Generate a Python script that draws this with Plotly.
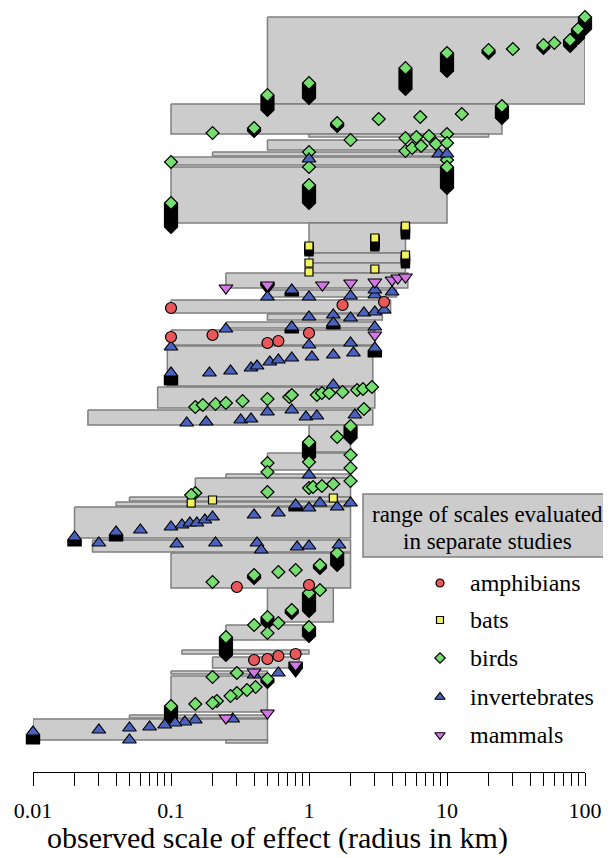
import plotly.graph_objects as go

SERIF = "Liberation Serif, Times New Roman, serif"

# ---- ranges of scales evaluated in separate studies (km), and study row position (top/bottom, row units from top)
study_lo = [0.5, 0.1, 1, 0.5, 0.2, 0.1, 0.1, 1, 1, 1, 0.25, 0.5, 0.1, 0.5, 0.25, 0.1, 0.094, 0.08, 0.025,
            1, 0.5, 0.25, 0.15, 0.05, 0.04, 0.02, 0.027, 0.1, 0.5, 0.25, 0.12, 0.2, 0.1, 0.1, 0.05, 0.01, 0.25]
study_hi = [100, 25, 20, 10, 10, 10, 10, 5, 5, 5, 5.2, 4.3, 3.9, 3.4, 3, 3, 2.9, 3, 2.9,
            2, 2, 2, 2, 2, 2, 2, 2, 2, 1.5, 1, 1, 0.85, 0.5, 0.5, 0.5, 0.5, 0.5]
study_top = [17, 104, 134, 140, 152, 157, 167, 223, 253, 263, 273, 290, 300, 314, 322, 330, 346, 387, 410,
             425, 453, 474, 478, 497, 502, 507, 540, 553, 588, 625, 650, 657, 671, 676, 715, 719, 740]
study_bottom = [104, 134, 137, 150, 156, 165, 223, 253, 263, 273, 288, 297, 313, 320, 328, 345, 386, 408, 425,
                452, 470, 478, 497, 501, 506, 538, 552, 588, 622, 640, 654, 668, 674, 712, 718, 740, 743]

# ---- observed scales of effect (km), row, and number of identical values stacked underneath
amph_x = [0.1, 1.75, 3.5, 0.1, 0.2, 0.5, 0.6, 1, 0.3, 1, 0.4, 0.5, 0.6, 0.8]
amph_row = [308, 305, 302, 337, 335, 343, 341, 333, 587, 585, 660, 659, 656, 654]
amph_stack = [0] * 14

bats_x = [5, 3, 1, 5, 1, 1, 3, 0.2, 1.5, 0.14]
bats_row = [226, 238, 246, 255, 263, 272, 269, 500, 498, 503]
bats_stack = [3, 3, 2, 3, 0, 0, 0, 0, 0, 0]

birds_x = [100, 89, 78, 60, 50, 30, 20, 10, 5, 1, 0.5,
           0.2, 0.4, 1.6, 3.2, 6.4, 12.8, 25,
           2, 5, 6, 7.4, 10, 5, 5.6, 6.5, 8.3, 10, 10, 10, 1, 1, 0.1, 1, 0.1,
           0.15, 0.17, 0.21, 0.25, 0.33, 0.5, 0.72, 0.75, 1.14, 1.24, 1.4, 1.75, 2.23, 2.46, 2.86,
           2.5, 1, 1.6, 2, 0.5, 0.5, 1, 2, 2,
           0.15, 0.5, 1, 1.07, 1.24, 1.5, 2, 0.14,
           0.2, 0.4, 0.6, 0.8, 1.2, 1.6,
           1, 1.2, 0.75, 0.5, 0.4, 0.6, 0.5, 1, 0.25,
           0.2, 0.3, 0.5, 0.41, 0.355, 0.3, 0.27, 0.215, 0.2, 0.15, 0.1]
birds_row = [17, 29, 40, 43, 45, 49, 50, 53, 68, 83, 95,
             133, 128, 123, 119, 117, 114, 106,
             140, 138, 137, 136, 134, 151, 148, 146, 144, 143, 160, 167, 152, 167, 162, 185, 203,
             407, 405, 404, 403, 401, 399, 397, 395, 395, 393, 393, 392, 390, 389, 387,
             409, 442, 437, 426, 463, 472, 462, 455, 468,
             493, 492, 488, 487, 486, 484, 481, 495,
             582, 575, 572, 570, 565, 553,
             593, 590, 610, 617, 625, 623, 633, 627, 637,
             677, 673, 679, 687, 690, 693, 696, 701, 703, 704, 706]
birds_stack = [4, 3, 2, 0, 1, 0, 1, 6, 7, 5, 5,
               0, 1, 1, 0, 0, 0, 4,
               0, 0, 0, 0, 0, 0, 0, 0, 0, 0, 0, 7, 0, 0, 0, 6, 8,
               0, 0, 0, 0, 0, 0, 0, 0, 0, 0, 0, 0, 0, 0, 0,
               0, 5, 0, 4, 0, 0, 0, 0, 0,
               0, 0, 0, 0, 0, 0, 0, 0,
               0, 1, 0, 0, 1, 4,
               6, 0, 1, 2, 0, 0, 0, 3, 6,
               0, 0, 1, 0, 0, 0, 0, 0, 0, 0, 4]

inv_x = [8.7, 10, 1,
         0.75, 0.5, 1, 2, 3, 4, 3,
         1, 1.5, 1.5, 2, 2.5, 3, 3.5,
         0.75, 0.25, 1, 2, 3, 3, 0.1,
         0.1, 0.19, 0.27, 0.38, 0.42, 0.52, 0.6, 0.75, 1.05, 1.5, 2.1,
         1.5, 0.13, 0.18, 0.32, 0.38, 0.5, 0.75, 0.95, 1.14, 2.15, 1,
         0.02, 0.04, 0.06, 0.1, 0.12, 0.137, 0.154, 0.176, 0.2, 0.4, 0.6, 0.8, 1, 1.2, 1.6, 2,
         0.03, 0.11, 0.21, 0.42, 0.45, 0.82, 1, 1.65,
         0.4, 0.6,
         0.28, 0.15, 0.126, 0.107, 0.09, 0.07, 0.05, 0.03, 0.01, 0.05]
inv_row = [154, 154, 159,
           290, 297, 297, 296, 295, 292, 290,
           317, 315, 323, 318, 313, 312, 310,
           327, 329, 345, 343, 327, 348, 347,
           373, 373, 371, 368, 366, 362, 360, 358, 357, 355, 353,
           385, 423, 422, 420, 419, 412, 410, 417, 416, 415, 475,
           537, 532, 530, 527, 525, 523, 523, 520, 517, 515, 513, 505, 508, 503, 507, 503,
           543, 544, 543, 543, 550, 547, 546, 545,
           675, 673,
           719, 720, 722, 723, 725, 727, 728, 730, 732, 740]
inv_stack = [0, 0, 0,
             1, 0, 0, 0, 0, 0, 0,
             0, 0, 1, 0, 0, 0, 0,
             1, 0, 0, 0, 0, 2, 0,
             3, 0, 0, 0, 0, 0, 0, 0, 0, 0, 0,
             0, 0, 0, 0, 0, 0, 0, 0, 0, 0, 0,
             2, 2, 0, 0, 0, 0, 0, 0, 0, 0, 0, 1, 0, 0, 0, 0,
             0, 0, 0, 0, 0, 0, 0, 0,
             0, 0,
             0, 0, 0, 0, 0, 0, 0, 0, 3, 0]

mam_x = [0.25, 0.5, 1.25, 2, 3, 4, 4.4, 5, 3, 0.8, 0.4, 0.25, 0.5]
mam_row = [288, 285, 285, 283, 282, 280, 278, 277, 335, 665, 672, 718, 713]
mam_stack = [0, 1, 0, 0, 0, 0, 0, 0, 0, 2, 0, 0, 0]

taxa = ["amphibians", "bats", "birds", "invertebrates", "mammals"]

# ---- styling
RECT_FILL = "#CCCCCC"
RECT_LINE = "#7F7F7F"
styles = {
    "amphibians": dict(symbol="circle", color="#E8585A", size=11),
    "bats": dict(symbol="square", color="#F2F25E", size=8),
    "birds": dict(symbol="diamond", color="#74DE6E", size=10),
    "invertebrates": dict(symbol="triangle-up", color="#4A62BE", size=12),
    "mammals": dict(symbol="triangle-down", color="#D178E6", size=12),
}
series = {
    "amphibians": (amph_x, amph_row, amph_stack),
    "bats": (bats_x, bats_row, bats_stack),
    "birds": (birds_x, birds_row, birds_stack),
    "invertebrates": (inv_x, inv_row, inv_stack),
    "mammals": (mam_x, mam_row, mam_stack),
}
STACK_STEP = 3
STACK_SUB = 3  # sub-steps per stacked value so the shadow looks solid

# page geometry (the HTML body adds an 8 px offset)
OFF = 8
PAGE_W, PAGE_H = 611, 858
W, H = PAGE_W - OFF, PAGE_H - OFF


def px(xp):
    return (xp - OFF) / W


def py(yp):
    return 1 - (yp - OFF) / H


fig = go.Figure()

# study ranges
for lo, hi, t, b in zip(study_lo, study_hi, study_top, study_bottom):
    fig.add_trace(go.Scatter(
        x=[lo, hi, hi, lo, lo], y=[t, t, b, b, t], mode="lines", fill="toself",
        fillcolor=RECT_FILL, line=dict(color=RECT_LINE, width=1.5),
        hoverinfo="skip", showlegend=False))

order = ["birds", "invertebrates", "mammals", "amphibians", "bats"]
# stacked duplicates (black) then coloured markers
for name in order:
    xs, rows, stacks = series[name]
    st = styles[name]
    bx, by = [], []
    for x, r, n in zip(xs, rows, stacks):
        for k in range(n * STACK_SUB, 0, -1):
            bx.append(x)
            by.append(r + k * STACK_STEP / STACK_SUB)
    if bx:
        fig.add_trace(go.Scatter(
            x=bx, y=by, mode="markers", cliponaxis=False, showlegend=False, hoverinfo="skip",
            marker=dict(symbol=st["symbol"], size=st["size"], color="black",
                        line=dict(color="black", width=1.2))))

for name in order:
    xs, rows, stacks = series[name]
    st = styles[name]
    fig.add_trace(go.Scatter(
        x=xs, y=rows, mode="markers", cliponaxis=False, name=name, showlegend=False,
        marker=dict(symbol=st["symbol"], size=st["size"], color=st["color"],
                    line=dict(color="black", width=1.2))))

# legend (drawn in page-pixel overlay axes)
leg_y = [583, 620, 658, 697, 735]
leg_sizes = {"amphibians": 8, "bats": 7, "birds": 8, "invertebrates": 9, "mammals": 9}
for name, yy in zip(taxa, leg_y):
    st = styles[name]
    fig.add_trace(go.Scatter(
        x=[440], y=[yy], xaxis="x2", yaxis="y2", mode="markers", showlegend=False, hoverinfo="skip",
        cliponaxis=False,
        marker=dict(symbol=st["symbol"], size=leg_sizes[name], color=st["color"],
                    line=dict(color="black", width=1.2))))

annotations = []
for name, yy in zip(taxa, leg_y):
    annotations.append(dict(text=name, x=px(468), y=py(yy), xref="paper", yref="paper",
                            xanchor="left", yanchor="middle", showarrow=False,
                            font=dict(family=SERIF, size=24, color="black")))
annotations.append(dict(text="range of scales evaluated", x=px(487), y=py(514), xref="paper", yref="paper",
                        xanchor="center", yanchor="middle", showarrow=False,
                        font=dict(family=SERIF, size=23, color="black")))
annotations.append(dict(text="in separate studies", x=px(487), y=py(541), xref="paper", yref="paper",
                        xanchor="center", yanchor="middle", showarrow=False,
                        font=dict(family=SERIF, size=23, color="black")))
annotations.append(dict(text="observed scale of effect (radius in km)", x=px(277), y=py(838),
                        xref="paper", yref="paper", xanchor="center", yanchor="middle", showarrow=False,
                        font=dict(family=SERIF, size=30, color="black")))

shapes = [dict(type="rect", xref="paper", yref="paper", x0=px(363), x1=1.05, y0=py(557), y1=py(494),
               fillcolor=RECT_FILL, line=dict(color=RECT_LINE, width=1.5), layer="below")]

tickvals, ticktext = [], []
for d, lab in [(0.01, "0.01"), (0.1, "0.1"), (1, "1"), (10, "10")]:
    for m in range(1, 10):
        tickvals.append(m * d)
        ticktext.append(lab if m == 1 else "")
tickvals.append(100)
ticktext.append("100")

AXIS_Y = 772  # page row of the x axis line

fig.update_layout(
    template="none",
    width=W, height=H, margin=dict(l=0, r=0, t=0, b=0, autoexpand=False),
    paper_bgcolor="white", plot_bgcolor="rgba(0,0,0,0)", showlegend=False,
    xaxis=dict(type="log", range=[-2, 2], domain=[px(33), px(585)], anchor="y", automargin=False,
               showgrid=False, zeroline=False, showline=True, linecolor="black", linewidth=1,
               ticks="outside", ticklen=13, tickwidth=1, tickcolor="black",
               tickmode="array", tickvals=tickvals, ticktext=ticktext, ticklabelstandoff=6,
               tickfont=dict(family=SERIF, size=22, color="black")),
    yaxis=dict(range=[AXIS_Y, OFF], domain=[py(AXIS_Y), 1], anchor="x", visible=False,
               automargin=False),
    xaxis2=dict(range=[OFF, PAGE_W], domain=[0, 1], anchor="y2", visible=False, automargin=False),
    yaxis2=dict(range=[PAGE_H, OFF], domain=[0, 1], anchor="x2", visible=False, automargin=False),
    annotations=annotations, shapes=shapes,
)

fig.write_html("out.html")
